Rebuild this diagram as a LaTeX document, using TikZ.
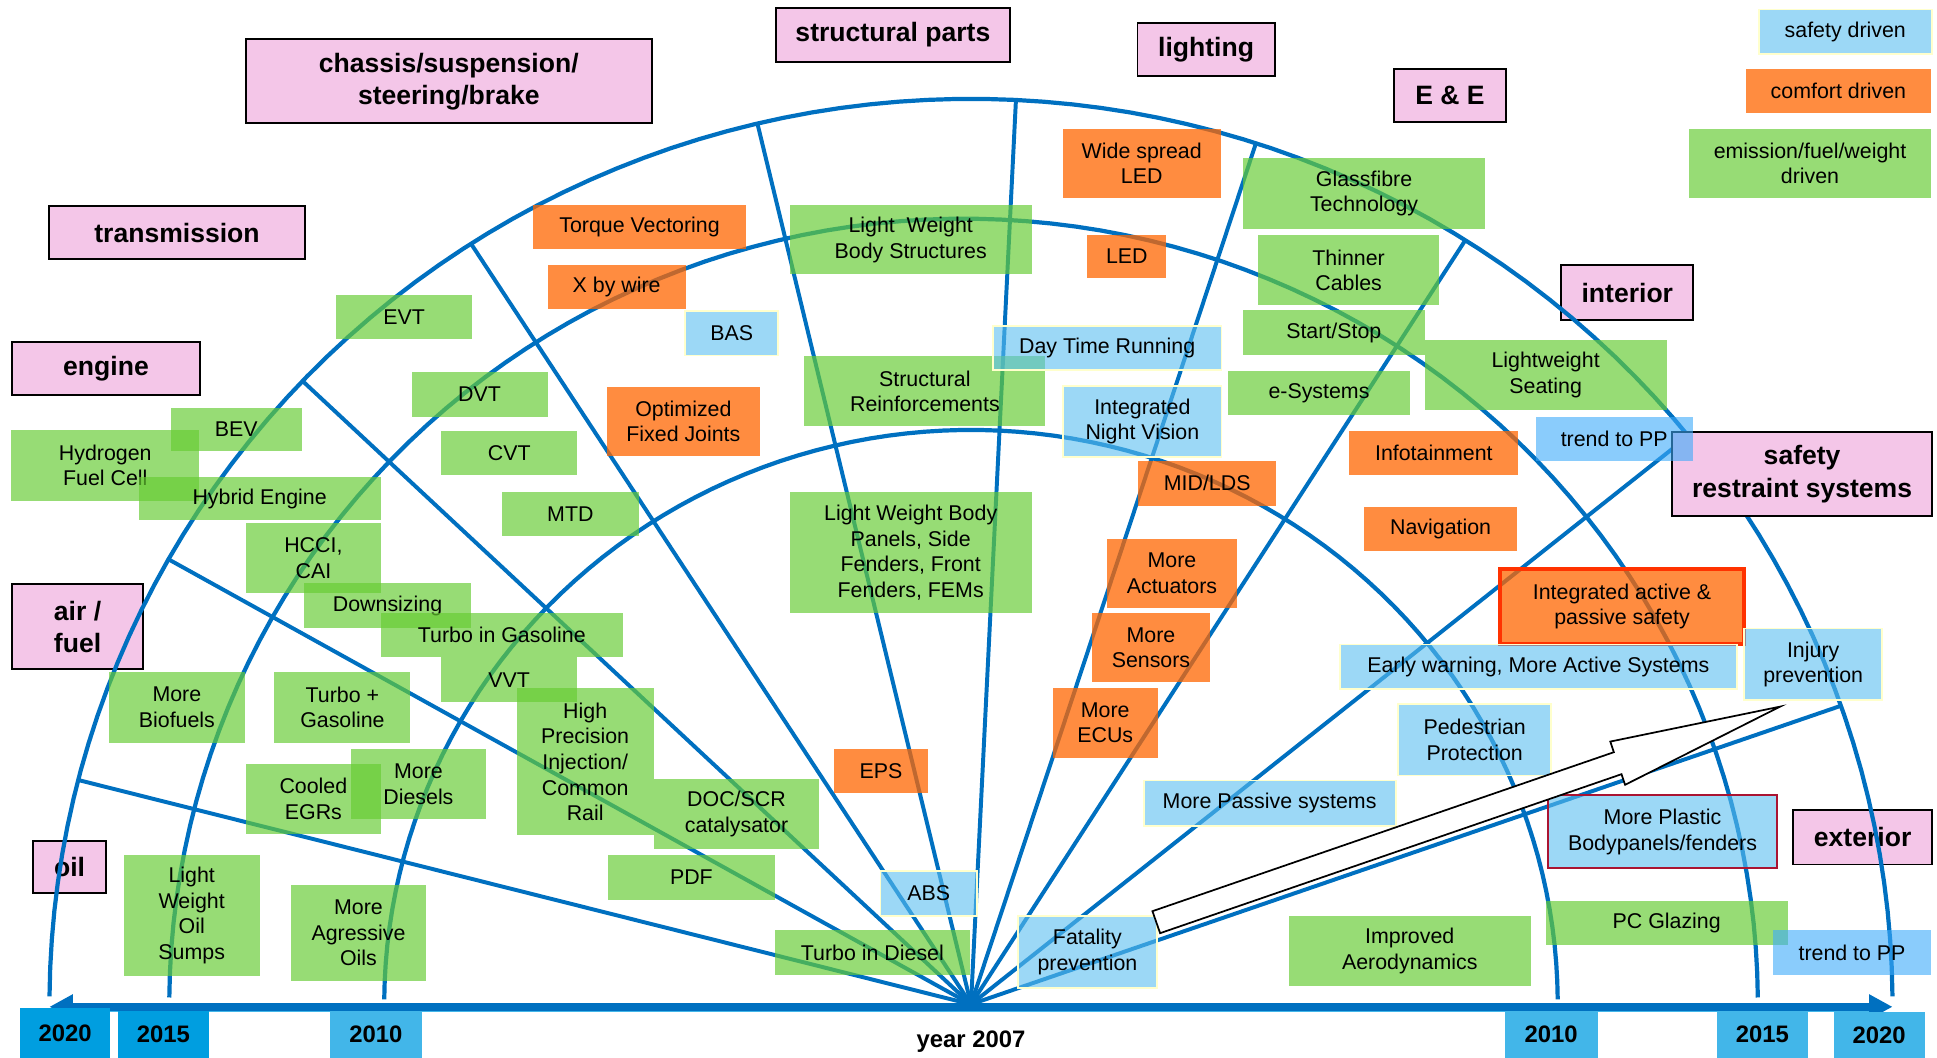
\documentclass[tikz,border=0pt]{standalone}
\usepackage{fontspec}
\setmainfont{Liberation Sans}
\usepackage{xcolor}
\usepackage{tikz}
\usetikzlibrary{arrows.meta}
\definecolor{linblue}{RGB}{0,112,192}
\definecolor{emigreen}{RGB}{102,204,51}
\definecolor{comforange}{RGB}{255,102,0}
\definecolor{safeblue}{RGB}{90,190,240}
\definecolor{ppblue}{RGB}{60,170,250}
\definecolor{catpink}{RGB}{244,198,232}
\definecolor{paleyellow}{RGB}{255,255,204}
\definecolor{yeardark}{RGB}{0,158,224}
\definecolor{yearlight}{RGB}{66,182,233}
\definecolor{hotred}{RGB}{255,50,0}
\definecolor{winered}{RGB}{170,20,50}
\tikzset{
  tag/.style={anchor=north west, inner sep=0pt, align=center, text=black, text opacity=1,
    font=\fontsize{17.3}{20.7}\selectfont},
  emi/.style 2 args={tag, fill=emigreen, fill opacity=0.68, minimum width=#1, minimum height=#2},
  comf/.style 2 args={tag, fill=comforange, fill opacity=0.75, minimum width=#1, minimum height=#2},
  safe/.style 2 args={tag, fill=safeblue, fill opacity=0.6, draw=paleyellow, line width=1.5,
    minimum width=#1, minimum height=#2},
  trend/.style 2 args={tag, fill=ppblue, fill opacity=0.6, minimum width=#1, minimum height=#2},
  cat/.style 2 args={anchor=north west, inner sep=0pt, align=center, fill=catpink, draw=black,
    line width=1.6, font=\bfseries\fontsize{21.5}{26}\selectfont, minimum width=#1, minimum height=#2},
  yearbox/.style 2 args={anchor=north west, inner sep=0pt, font=\bfseries\fontsize{19.3}{23}\selectfont,
    minimum width=#1, minimum height=#2},
  arcline/.style={linblue, line width=3.4},
  rayline/.style={linblue, line width=3.2},
}

\begin{document}
\begin{tikzpicture}[x=1pt,y=-1pt]
\useasboundingbox (0,0) rectangle (1568,856);
\coordinate (O) at (786,813);

% categories
\node[cat={329}{68}] (chassis) at (198,31) {chassis/suspension/\\steering/brake};
\node[cat={190}{43}] (structural) at (627,6) {structural parts};
\node[cat={111}{43}] (lighting) at (920,18) {lighting};
\node[cat={90}{43}] (ee) at (1128,55) {E \& E};
\node[cat={207}{43}] (transmission) at (39,166) {transmission};
\node[cat={152}{43}] (engine) at (9,276) {engine};
\node[cat={107}{44}] (interior) at (1263,214) {interior};
\node[cat={106}{69}] (airfuel) at (9,472) {air /\\fuel};
\node[cat={59}{42}] (oil) at (26,680) {oil};
\node[cat={112}{44}] (exterior) at (1451,655) {exterior};

% year arcs and rays
\draw[arcline] plot[domain=0.5:179.5, samples=100] ({786+475*cos(\x)},{813-465*sin(\x)});
\draw[arcline] plot[domain=0.5:179.5, samples=100] ({780+643*cos(\x)},{813-636*sin(\x)});
\draw[arcline] plot[domain=0.5:179.5, samples=100] ({786+746*cos(\x)},{813-733*sin(\x)});
\draw[rayline] (O) -- (63.3,631.4);
\draw[rayline] (O) -- (136.3,452.7);
\draw[rayline] (O) -- (244.9,308.4);
\draw[rayline] (O) -- (381.3,197.3);
\draw[rayline] (O) -- (613.1,99.9);
\draw[rayline] (O) -- (822.4,80.9);
\draw[rayline] (O) -- (1016.7,115.9);
\draw[rayline] (O) -- (1186.2,194.4);
\draw[rayline] (O) -- (1366.8,353.0);
\draw[rayline] (O) -- (1490.3,571.3);

\node[cat={210}{68}] (restraint) at (1353,349) {safety\\restraint systems};

% legend
\node[safe={140}{36}] (legsafe) at (1423,7) {safety driven};
\node[comf={150}{35}] (legcomf) at (1413,56) {comfort driven};
\node[emi={196}{56}] (legemi) at (1367,104) {emission/fuel/weight\\driven};

% emission/fuel/weight driven
\node[emi={110}{35}] (evt) at (272,239) {EVT};
\node[emi={110}{36}] (dvt) at (333,301) {DVT};
\node[emi={106}{35}] (bev) at (138,330) {BEV};
\node[emi={152}{57}] (hydrogen) at (9,348) {Hydrogen\\Fuel Cell};
\node[emi={110}{35}] (cvt) at (357,349) {CVT};
\node[emi={196}{35}] (hybrid) at (112,386) {Hybrid Engine};
\node[emi={111}{36}] (mtd) at (406,398) {MTD};
\node[emi={109}{57}] (hcci) at (199,423) {HCCI,\\CAI};
\node[emi={135}{36}] (downsizing) at (246,472) {Downsizing};
\node[emi={196}{36}] (turbogas) at (308,496) {Turbo in Gasoline};
\node[emi={110}{36}] (vvt) at (357,532) {VVT};
\node[emi={110}{57}] (biofuels) at (88,544) {More\\Biofuels};
\node[emi={110}{57}] (turboplus) at (222,544) {Turbo +\\Gasoline};
\node[emi={111}{119}] (highprec) at (418,557) {High\\Precision\\Injection/\\Common\\Rail};
\node[emi={109}{57}] (cooled) at (199,618) {Cooled\\EGRs};
\node[emi={109}{57}] (diesels) at (284,606) {More\\Diesels};
\node[emi={134}{57}] (docscr) at (529,630) {DOC/SCR\\catalysator};
\node[emi={135}{36}] (pdf) at (492,692) {PDF};
\node[emi={110}{98}] (oilsumps) at (100,692) {Light\\Weight\\Oil\\Sumps};
\node[emi={110}{78}] (aggroils) at (235,716) {More\\Agressive\\Oils};
\node[emi={158}{36}] (turbodiesel) at (627,753) {Turbo in Diesel};
\node[emi={196}{56}] (lwbody) at (639,166) {Light~~Weight\\Body Structures};
\node[emi={195}{57}] (reinf) at (651,288) {Structural\\Reinforcements};
\node[emi={196}{98}] (lwpanels) at (639,398) {Light Weight Body\\Panels, Side\\Fenders, Front\\Fenders, FEMs};
\node[emi={196}{57}] (glassfibre) at (1006,128) {Glassfibre\\Technology};
\node[emi={147}{57}] (thinner) at (1018,190) {Thinner\\Cables};
\node[emi={147}{36}] (startstop) at (1006,251) {Start/Stop};
\node[emi={147}{36}] (esystems) at (994,300) {e-Systems};
\node[emi={196}{57}] (seating) at (1153,275) {Lightweight\\Seating};
\node[emi={196}{57}] (aero) at (1043,741) {Improved\\Aerodynamics};
\node[emi={196}{36}] (pcglazing) at (1251,729) {PC Glazing};

% comfort driven
\node[comf={173}{35}] (torque) at (431,166) {Torque Vectoring};
\node[comf={112}{36}] (xbywire) at (443,214) {X by wire};
\node[comf={124}{56}] (joints) at (491,313) {Optimized\\Fixed Joints};
\node[comf={128}{56}] (widespread) at (860,104) {Wide spread\\LED};
\node[comf={64}{35}] (led) at (880,190) {LED};
\node[comf={112}{36}] (midlds) at (921,373) {MID/LDS};
\node[comf={105}{56}] (actuators) at (896,436) {More\\Actuators};
\node[comf={95}{56}] (sensors) at (884,496) {More\\Sensors};
\node[comf={85}{56}] (ecus) at (852,557) {More\\ECUs};
\node[comf={76}{36}] (eps) at (675,606) {EPS};
\node[comf={137}{35}] (infotainment) at (1092,349) {Infotainment};
\node[comf={124}{36}] (navigation) at (1104,410) {Navigation};
\node[comf={197}{61}, draw=hotred, line width=3] (actpass) at (1213,459) {Integrated active \&\\passive safety};

% safety driven
\node[safe={75}{36}] (bas) at (554,251) {BAS};
\node[safe={185}{36}] (daytime) at (803,263) {Day Time Running};
\node[safe={128}{57}] (nightvision) at (860,312) {Integrated\\Night Vision};
\node[trend={127}{36}] (pptop) at (1243,337) {trend to PP};
\node[safe={321}{36}] (earlywarn) at (1084,521) {Early warning, More Active Systems};
\node[safe={112}{58}] (injury) at (1411,508) {Injury\\prevention};
\node[safe={124}{58}] (pedestrian) at (1131,569) {Pedestrian\\Protection};
\node[safe={204}{37}] (passive) at (925,631) {More Passive systems};
\node[safe={186}{59}, draw=winered, line width=1.6] (plastic) at (1252,643) {More Plastic\\Bodypanels/fenders};
\node[safe={78}{37}] (abs) at (712,704) {ABS};
\node[safe={113}{58}] (fatality) at (823,741) {Fatality\\prevention};
\node[trend={128}{36}] (ppbottom) at (1435,753) {trend to PP};

\draw[black, line width=1.4, fill=white] (932.9,737.6) -- (1306.4,608.9) -- (1303.5,600.3) -- (1441,572)
  -- (1315.5,635.3) -- (1312.6,626.7) -- (939.1,755.4) -- cycle;

% time axis
\draw[yearlight, line width=1.2] (58,818.8) -- (1514,818.8);
\draw[linblue, line width=6, {Triangle[length=19pt,width=19pt]}-{Triangle[length=19pt,width=19pt]}] (40,815) -- (1532,815);
\node[yearbox={73}{40}, fill=yeardark] (ya) at (16,816) {2020};
\node[yearbox={74}{38}, fill=yeardark] (yb) at (95,818) {2015};
\node[yearbox={74}{38}, fill=yearlight] (yc) at (267,818) {2010};
\node[yearbox={75}{38}, fill=yearlight] (yd) at (1218,818) {2010};
\node[yearbox={73}{38}, fill=yearlight] (ye) at (1390,818) {2015};
\node[yearbox={74}{37}, fill=yearlight] (yf) at (1484,819) {2020};
\node[font=\bfseries\fontsize{19.3}{23}\selectfont] (year) at (786,843) {year 2007};
\end{tikzpicture}
\end{document}
